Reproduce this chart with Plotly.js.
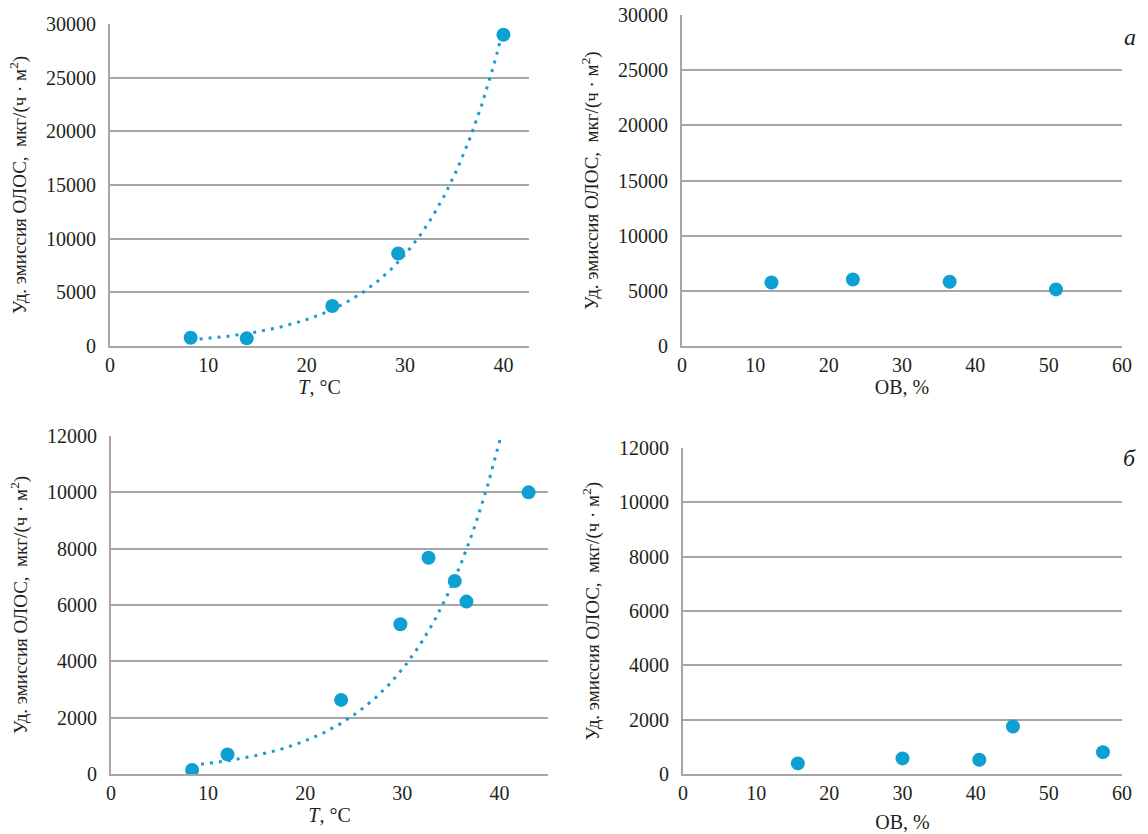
<!DOCTYPE html>
<html>
<head>
<meta charset="utf-8">
<script src="https://cdn.plot.ly/plotly-3.0.1.min.js"></script>
<style>html,body{margin:0;padding:0;background:#fff;}#chart{width:1148px;height:834px;}</style>
</head>
<body>
<div id="chart"></div>
<script>
// Panel а: temperature vs emission
const tempA = [8.2, 13.9, 22.6, 29.3, 40.0];
const emisTempA = [775, 715, 3720, 8615, 29000];
// Panel а: organic matter vs emission
const obA = [12.2, 23.3, 36.5, 51.0];
const emisObA = [5760, 6030, 5820, 5130];
// Panel б: temperature vs emission
const tempB = [8.35, 12.0, 23.7, 29.8, 32.7, 35.4, 36.6, 43.0];
const emisTempB = [140, 695, 2630, 5315, 7675, 6850, 6120, 10000];
// Panel б: organic matter vs emission
const obB = [15.7, 30.0, 40.5, 45.1, 57.4];
const emisObB = [390, 575, 525, 1750, 805];

const yTitle = 'Уд. эмиссия ОЛОС,  <span style="font-size:19px">мкг/(ч · м<sup>2</sup>)</span>';
const tTitle = '<i>T</i>, °C';
const obTitle = 'ОВ, %';

// exponential trendline (least squares on ln y), as a spreadsheet draws it
function expTrend(xs, ys) {
  const n = xs.length;
  const ly = ys.map(v => Math.log(v));
  const mx = xs.reduce((s, v) => s + v, 0) / n;
  const my = ly.reduce((s, v) => s + v, 0) / n;
  let sxy = 0, sxx = 0;
  for (let i = 0; i < n; i++) { sxy += (xs[i] - mx) * (ly[i] - my); sxx += (xs[i] - mx) ** 2; }
  const b = sxy / sxx, a = Math.exp(my - b * mx);
  const x0 = Math.min(...xs), x1 = Math.max(...xs);
  const tx = [], ty = [];
  for (let i = 0; i <= 200; i++) { const x = x0 + (x1 - x0) * i / 200; tx.push(x); ty.push(a * Math.exp(b * x)); }
  return {x: tx, y: ty};
}

const blue = '#0E9FD3';
const W = 1148, H = 834;
const fx = p => p / W;
const fy = p => 1 - p / H;
const FAM = 'Liberation Serif, Times New Roman, serif';

function pts(x, y, xa, ya) {
  return {type: 'scatter', mode: 'markers', x: x, y: y, xaxis: xa, yaxis: ya,
    marker: {color: blue, size: 14}, showlegend: false, hoverinfo: 'x+y'};
}
function trend(x, y, xa, ya) {
  const t = expTrend(x, y);
  return {type: 'scatter', mode: 'lines', x: t.x, y: t.y, xaxis: xa, yaxis: ya,
    line: {color: '#1A9AD4', width: 3, dash: '3px,6px'}, showlegend: false, hoverinfo: 'skip'};
}

const tickFont = {family: FAM, size: 20, color: '#231F20'};
const titleFont = {family: FAM, size: 20, color: '#231F20'};

function xax(x0, x1, range, dtick, title, anchor, standoff) {
  return {domain: [fx(x0), fx(x1)], range: range, dtick: dtick, tick0: 0, anchor: anchor,
    showgrid: false, zeroline: false, showline: true, linecolor: '#A6A6A6', linewidth: 2,
    ticks: '', tickfont: tickFont, fixedrange: true, tickformat: 'd',
    title: {text: title, font: titleFont, standoff: standoff}};
}
function yax(y0, y1, range, dtick, anchor, standoff) {
  return {domain: [fy(y1), fy(y0)], range: range, dtick: dtick, tick0: 0, anchor: anchor,
    showgrid: true, gridcolor: '#A6A6A6', gridwidth: 2, zeroline: false,
    showline: true, linecolor: '#A6A6A6', linewidth: 2, ticks: '', ticklabelstandoff: 8,
    tickfont: tickFont, fixedrange: true, tickformat: 'd',
    title: {text: yTitle, font: {family: FAM, size: 19, color: '#231F20'}, standoff: standoff}};
}

const data = [
  trend(tempA, emisTempA, 'x', 'y'),
  pts(tempA, emisTempA, 'x', 'y'),
  pts(obA, emisObA, 'x2', 'y2'),
  trend(tempB, emisTempB, 'x3', 'y3'),
  pts(tempB, emisTempB, 'x3', 'y3'),
  pts(obB, emisObB, 'x4', 'y4')
];

const layout = {
  width: W, height: H,
  margin: {l: 0, r: 0, t: 0, b: 0},
  paper_bgcolor: '#fff', plot_bgcolor: '#fff',
  showlegend: false,
  font: {family: FAM},
  xaxis:  xax(110, 529, [0, 42.6], 10, tTitle, 'y', 4),
  yaxis:  yax(24, 346, [0, 30000], 5000, 'x', 14),
  xaxis2: xax(682, 1122, [0, 60], 10, obTitle, 'y2', 4),
  yaxis2: yax(15, 346, [0, 30000], 5000, 'x2', 14),
  xaxis3: xax(111, 548, [0, 45], 10, tTitle, 'y3', 2),
  yaxis3: yax(436, 774, [0, 12000], 2000, 'x3', 14),
  xaxis4: xax(683, 1122, [0, 60], 10, obTitle, 'y4', 12),
  yaxis4: yax(448, 774, [0, 12000], 2000, 'x4', 14),
  annotations: [
    {text: '<i>а</i>', x: fx(1138), y: fy(22), xref: 'paper', yref: 'paper', showarrow: false,
     font: {family: FAM, size: 24, color: '#231F20'}},
    {text: '<i>б</i>', x: fx(1138), y: fy(458), xref: 'paper', yref: 'paper', showarrow: false,
     font: {family: FAM, size: 24, color: '#231F20'}}
  ]
};

Plotly.newPlot('chart', data, layout, {displayModeBar: false});
</script>
</body>
</html>
